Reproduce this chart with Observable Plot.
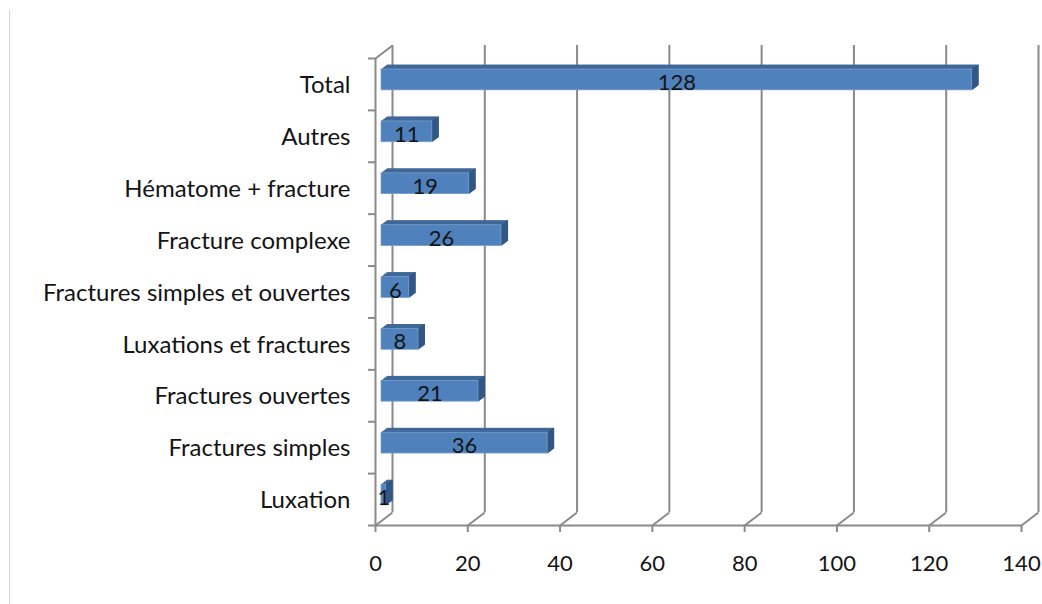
<!DOCTYPE html>
<html>
<head>
<meta charset="utf-8">
<script src="https://cdn.jsdelivr.net/npm/d3@7"></script>
<script src="https://cdn.jsdelivr.net/npm/@observablehq/plot@0.6"></script>
<style>
  body { margin: 0; background: #fff; }
  #chart { position: relative; width: 1042px; height: 604px; overflow: hidden; }
  #chart::before { content: ""; position: absolute; left: 9px; top: 10px; bottom: 0; border-left: 1px solid #d6d6d6; }
  #chart svg { display: block; }
</style>
</head>
<body>
<div id="chart"></div>
<script>
// Categories listed bottom to top
const categories = [
  "Luxation",
  "Fractures simples",
  "Fractures ouvertes",
  "Luxations et fractures",
  "Fractures simples et ouvertes",
  "Fracture complexe",
  "Hématome + fracture",
  "Autres",
  "Total"
];
const counts = [1, 36, 21, 8, 6, 26, 19, 11, 128];
const xTicks = [0, 20, 40, 60, 80, 100, 120, 140];

const W = 1042, H = 604;
const margin = {top: 58, right: 21, bottom: 79, left: 375};
const xMax = 140;
const nCat = categories.length;

// pixels per data unit, used to express the 3D depth offsets
const pxX = (W - margin.left - margin.right) / xMax;
const pxY = (H - margin.top - margin.bottom) / nCat;

// back wall offset (pixels, right and up)
const wallDx = 17, wallDy = 13;
const wallX = wallDx / pxX, wallY = wallDy / pxY;

// bar front face offset and extrusion depth (pixels)
const barDx = 6, barDy = 4.5, barDepth = 6;

const rows = categories.map((c, i) => ({category: c, count: counts[i], y1: i + 0.3, y2: i + 0.7}));

const gridColor = "#8a8a8a";
const frontFill = "#4f81bd", topFill = "#3f6898", sideFill = "#335885";
const ink = "#141414";

const depthSteps = d3.range(0.5, barDepth + 0.01, 0.5);

const chart = Plot.plot({
  width: W,
  height: H,
  marginTop: margin.top,
  marginRight: margin.right,
  marginBottom: margin.bottom,
  marginLeft: margin.left,
  style: {fontFamily: "Lato, 'Open Sans', sans-serif", fontSize: "22px", background: "transparent"},
  x: {domain: [0, xMax]},
  y: {domain: [0, nCat]},
  marks: [
    // back wall gridlines
    Plot.ruleX(xTicks, {x: d => d + wallX, y1: wallY, y2: nCat + wallY, stroke: gridColor, strokeWidth: 2}),
    // floor diagonals joining front ticks to the back wall
    Plot.link(xTicks, {x1: d => d, y1: 0, x2: d => d + wallX, y2: wallY, stroke: gridColor, strokeWidth: 2}),
    // top-left diagonal of the side wall
    Plot.link([nCat], {x1: 0, y1: d => d, x2: wallX, y2: d => d + wallY, stroke: gridColor, strokeWidth: 2}),
    // front axis lines
    Plot.ruleX([0], {y1: 0, y2: nCat, stroke: gridColor, strokeWidth: 2}),
    Plot.ruleY([0], {x1: 0, x2: xMax, stroke: gridColor, strokeWidth: 2}),
    // category boundary ticks
    Plot.axisY(d3.range(nCat + 1), {tickSize: 7, tickFormat: () => "", stroke: gridColor, strokeWidth: 2, label: null}),
    // bar tops (stacked layers give the extrusion)
    ...depthSteps.map(k => Plot.rect(rows, {
      x1: 0, x2: "count", y1: "y1", y2: "y2",
      dx: barDx + k, dy: -(barDy + 0.75 * k), fill: topFill
    })),
    // bar right sides
    ...[0, ...depthSteps].map(k => Plot.ruleX(rows, {
      x: "count", y1: "y1", y2: "y2",
      dx: barDx + k, dy: -(barDy + 0.75 * k), stroke: sideFill, strokeWidth: 1.2
    })),
    // bar fronts
    Plot.rect(rows, {
      x1: 0, x2: "count", y1: "y1", y2: "y2",
      dx: barDx, dy: -barDy, fill: frontFill, stroke: "#7aa0cf", strokeWidth: 0.8
    }),
    // value labels
    Plot.text(rows, {
      x: d => d.count / 2, y: d => (d.y1 + d.y2) / 2, text: d => String(d.count),
      dx: barDx, dy: -barDy + 3, fill: ink, fontSize: 22
    }),
    // axes
    Plot.axisX(xTicks, {tickSize: 7, tickPadding: 23, stroke: gridColor, strokeWidth: 2, fill: ink, fontSize: 22, label: null}),
    Plot.axisY(d3.range(nCat).map(i => i + 0.5), {
      tickSize: 0, tickPadding: 25, tickFormat: d => categories[Math.floor(d)],
      fill: ink, fontSize: 24, label: null, dy: 1
    })
  ]
});

document.getElementById("chart").appendChild(chart);
</script>
</body>
</html>
